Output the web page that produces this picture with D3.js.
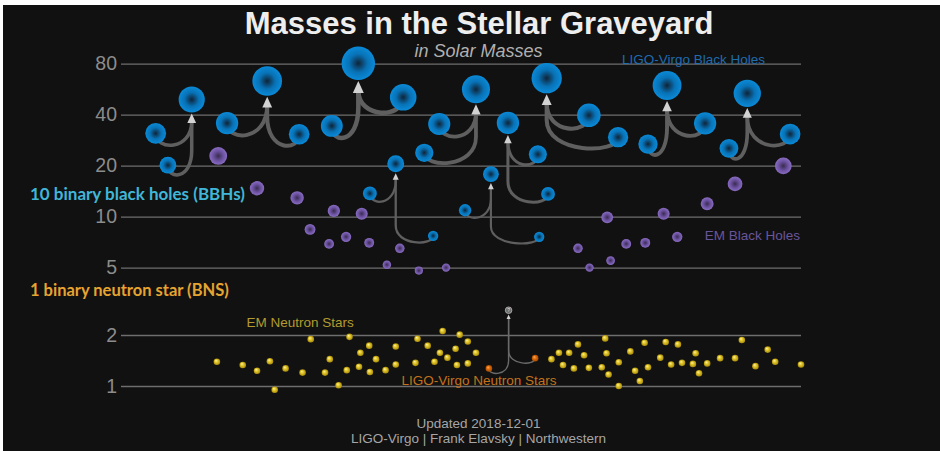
<!DOCTYPE html>
<html>
<head>
<meta charset="utf-8">
<script src="https://cdn.jsdelivr.net/npm/d3@7"></script>
<style>
  body { margin: 0; background: #fff; }
  svg { display: block; }
</style>
</head>
<body>
<div id="chart"></div>
<script>
// ---- data (masses in solar masses, pos = horizontal slot 0..100) ----
const massTicks = [1, 2, 5, 10, 20, 40, 80];

// LIGO-Virgo binary black holes
const bbhEvents = ["GW170104", "GW150914", "GW170729", "GW151226", "GW170809",
                   "GW151012", "GW170823", "GW170608", "GW170818", "GW170814"];
const bbhMass1 = [31.0, 35.6, 34.3, 13.7, 23.8, 23.3, 39.6, 10.9, 26.8, 25.3];
const bbhMass2 = [20.1, 30.6, 50.6, 7.7, 35.2, 13.6, 29.4, 7.6, 35.5, 30.7];
const bbhFinal = [49.1, 63.1, 80.3, 20.5, 56.4, 35.7, 65.6, 17.8, 59.4, 53.4];
const bbhPos1 = [5.1, 15.6, 31.0, 36.6, 44.6, 61.3, 68.8, 50.6, 77.5, 89.4];
const bbhPos2 = [6.9, 26.2, 41.5, 45.9, 46.8, 62.8, 73.1, 61.5, 85.9, 98.4];
const bbhPosF = [10.4, 21.5, 34.9, 40.4, 52.2, 56.9, 62.6, 54.4, 80.3, 92.1];

// EM black holes (x-ray binaries)
const emBhMass = [22.8, 14.7, 12.9, 10.8, 10.4, 8.4, 7.6, 6.9, 7.0, 6.5, 5.2, 4.8,
                  5.0, 6.5, 5.0, 5.5, 9.9, 6.9, 7.0, 10.4, 7.6, 11.9, 15.6, 19.9];
const emBhPos = [14.3, 20.0, 25.9, 31.3, 35.4, 27.8, 33.1, 30.6, 36.5, 41.0, 39.1, 43.8,
                 47.8, 67.2, 68.9, 72.0, 71.5, 74.3, 77.1, 79.8, 81.8, 86.2, 90.3, 97.4];

// EM neutron stars
const emNsMass = [1.39, 1.33, 1.23, 1.40, 0.95, 1.27, 1.20, 1.89, 1.20, 1.44, 1.01, 1.24,
                  1.95, 1.30, 1.57, 1.73, 1.21, 1.44, 1.24, 1.71, 1.34, 1.37, 1.90, 1.73,
                  1.39, 1.57, 2.11, 1.47, 1.66, 1.33, 2.01, 1.83, 1.36, 1.57, 1.44, 1.57,
                  1.33, 1.57, 1.27, 1.76, 1.52, 1.28, 1.29, 1.91, 1.56, 1.17, 1.00, 1.38,
                  1.60, 1.23, 1.07, 1.80, 1.29, 1.47, 1.82, 1.34, 1.76, 1.37, 1.35, 1.56,
                  1.19, 1.36, 1.46, 1.46, 1.87, 1.31, 1.64, 1.39, 1.34];
const emNsPos = [14.1, 17.9, 20.0, 21.9, 22.6, 24.2, 26.7, 27.9, 30.0, 30.7, 32.0, 33.2,
                 33.6, 35.0, 35.2, 36.5, 36.6, 37.5, 38.9, 40.4, 40.4, 43.3, 43.6, 45.1,
                 46.1, 46.9, 47.3, 48.0, 49.2, 49.4, 49.8, 51.0, 51.0, 52.2, 63.3, 64.4,
                 65.0, 65.9, 66.6, 67.2, 68.1, 68.8, 70.7, 71.2, 71.4, 71.7, 73.2, 73.2,
                 74.9, 75.6, 76.3, 77.0, 77.5, 79.3, 80.1, 80.9, 81.9, 82.5, 84.1, 84.5,
                 85.0, 86.2, 88.1, 90.3, 91.3, 93.3, 95.1, 96.2, 100.0];

// LIGO-Virgo binary neutron star GW170817
const bnsMass = [1.27, 1.46];
const bnsPos = [54.1, 60.9];
const bnsFinal = 2.8;
const bnsPosF = 57.0;

// ---- layout ----
const W = 940, H = 451;
const font = "'Liberation Sans', Arial, sans-serif";

const svg = d3.select("#chart").append("svg")
  .attr("width", W)
  .attr("height", H)
  .style("font-family", font);

svg.append("rect")
  .attr("x", 3).attr("y", 5)
  .attr("width", W - 3).attr("height", H - 5)
  .attr("fill", "#111111");

const x = d3.scaleLinear().domain([0, 100]).range([121, 801]);
const octave = 51; // px per doubling of mass
const y = d3.scaleLog().domain([1, 80]).range([386, 386 - octave * Math.log2(80)]);
const r = d3.scaleSqrt().domain([0, 80]).range([0, 16.7]);
const nsR = () => 3.3;

// gradients
const defs = svg.append("defs");
function addGradient(id, stops, fx, fy) {
  const g = defs.append("radialGradient").attr("id", id);
  if (fx) g.attr("fx", fx).attr("fy", fy);
  stops.forEach(([o, c]) => g.append("stop").attr("offset", o).attr("stop-color", c));
}
addGradient("g-bh", [["0%", "#0f2438"], ["55%", "#0872b6"], ["100%", "#0a8ad8"]]);
addGradient("g-em", [["0%", "#392c4c"], ["55%", "#6b51a0"], ["100%", "#8a6cc2"]]);
addGradient("g-ns", [["0%", "#fff4a8"], ["45%", "#e4c82c"], ["100%", "#a68a0c"]], "35%", "30%");
addGradient("g-bns", [["0%", "#ffb060"], ["45%", "#e46e0e"], ["100%", "#a44a00"]], "35%", "30%");

// grid + tick labels
const grid = svg.append("g")
  .attr("transform", `translate(${x.range()[0]},0)`)
  .call(d3.axisLeft(y)
    .tickValues(massTicks)
    .tickFormat(d3.format("d"))
    .tickSize(-(x.range()[1] - x.range()[0]))
    .tickPadding(4))
  .attr("font-family", font)
  .attr("font-size", 19.5);
grid.select(".domain").remove();
grid.selectAll(".tick line").attr("stroke", "#6e6e6e").attr("stroke-width", 1.3);
grid.selectAll(".tick text").attr("fill", "#8c8c8c");

// merger arrows
const lines = svg.append("g").attr("fill", "none").attr("stroke-linecap", "round");
const heads = svg.append("g").attr("fill", "#d2d2d2");

function drawMerger(parts, final, rad, sw, color) {
  const fx = x(final.p), fy = y(final.m);
  const tipY = fy + rad(final.m) + 1;
  const aw = 2.2 * sw + 1, ah = 2.4 * sw + 1;
  const stemTop = tipY + ah * 0.8;
  parts.forEach(c => {
    const cx = x(c.p), cy = y(c.m), d = 1.4 * rad(c.m) + 3;
    let path = `M${cx},${cy}C${cx},${cy + d} ${fx},${cy + d} `;
    if (cy - d > stemTop) path += `${fx},${cy - d}L${fx},${stemTop}`;
    else path += `${fx},${stemTop}`;
    lines.append("path")
      .attr("d", path)
      .attr("stroke", color)
      .attr("stroke-width", sw);
  });
  heads.append("path")
    .attr("d", `M${fx},${tipY}L${fx - aw / 2},${tipY + ah}L${fx + aw / 2},${tipY + ah}Z`);
}

const bbh = bbhEvents.map((name, i) => ({
  name,
  final: { m: bbhFinal[i], p: bbhPosF[i] },
  parts: [{ m: bbhMass1[i], p: bbhPos1[i] }, { m: bbhMass2[i], p: bbhPos2[i] }]
}));

bbh.forEach(e => drawMerger(e.parts, e.final, r, 0.27 * r(e.final.m), "#5f5f5f"));

const bns = bnsMass.map((m, i) => ({ m, p: bnsPos[i] }));
drawMerger(bns, { m: bnsFinal, p: bnsPosF }, nsR, 1.4, "#6a6a6a");

// bodies
svg.append("g").selectAll("circle")
  .data(emBhMass.map((m, i) => ({ m, p: emBhPos[i] })))
  .join("circle")
  .attr("cx", d => x(d.p))
  .attr("cy", d => y(d.m))
  .attr("r", d => r(d.m))
  .attr("fill", "url(#g-em)");

const bbhBodies = bbh.flatMap(e => [e.final, ...e.parts]);
svg.append("g").selectAll("circle")
  .data(bbhBodies)
  .join("circle")
  .attr("cx", d => x(d.p))
  .attr("cy", d => y(d.m))
  .attr("r", d => r(d.m))
  .attr("fill", "url(#g-bh)");

svg.append("g").selectAll("circle")
  .data(emNsMass.map((m, i) => ({ m, p: emNsPos[i] })))
  .join("circle")
  .attr("cx", d => x(d.p))
  .attr("cy", d => y(d.m))
  .attr("r", nsR)
  .attr("fill", "url(#g-ns)");

svg.append("g").selectAll("circle")
  .data(bns)
  .join("circle")
  .attr("cx", d => x(d.p))
  .attr("cy", d => y(d.m))
  .attr("r", nsR)
  .attr("fill", "url(#g-bns)");

// GW170817 remnant (unknown type)
const rem = svg.append("g")
  .attr("transform", `translate(${x(bnsPosF)},${y(bnsFinal)})`);
rem.append("circle").attr("r", 3.3).attr("fill", "#6c6c6c").attr("stroke", "#b8b8b8").attr("stroke-width", 0.8);
rem.append("text").attr("text-anchor", "middle").attr("dy", "0.35em")
  .attr("font-size", 5).attr("fill", "#e0e0e0").text("?");

// text
function label(tx, ty, txt, opts) {
  const t = svg.append("text").attr("x", tx).attr("y", ty).text(txt);
  Object.entries(opts).forEach(([k, v]) => t.attr(k, v));
  return t;
}
label(479, 34, "Masses in the Stellar Graveyard",
  { "text-anchor": "middle", "font-size": 31, "font-weight": "bold", fill: "#eeeeee" });
label(478.5, 57, "in Solar Masses",
  { "text-anchor": "middle", "font-size": 18, "font-style": "italic", fill: "#b0b0b0" });
label(765, 63.5, "LIGO-Virgo Black Holes",
  { "text-anchor": "end", "font-size": 13.5, fill: "#1f6cae" });
label(800, 239.5, "EM Black Holes",
  { "text-anchor": "end", "font-size": 13.5, fill: "#6a559b" });
label(246.5, 326.5, "EM Neutron Stars",
  { "font-size": 13.5, fill: "#b39b2e" });
label(401.5, 384.5, "LIGO-Virgo Neutron Stars",
  { "font-size": 13.5, fill: "#c4711c" });
label(30, 199.5, "10 binary black holes (BBHs)",
  { "font-size": 17, "font-weight": "bold", "font-family": "Lato, 'DejaVu Sans', sans-serif", fill: "#40b6d8" });
label(30, 295.5, "1 binary neutron star (BNS)",
  { "font-size": 16.5, "font-weight": "bold", "font-family": "Lato, 'DejaVu Sans', sans-serif", fill: "#e6a430" });
label(478.5, 428, "Updated 2018-12-01",
  { "text-anchor": "middle", "font-size": 13.5, fill: "#a6a6a6" });
label(478.5, 442.5, "LIGO-Virgo | Frank Elavsky | Northwestern",
  { "text-anchor": "middle", "font-size": 13.5, fill: "#a6a6a6" });
</script>
</body>
</html>
